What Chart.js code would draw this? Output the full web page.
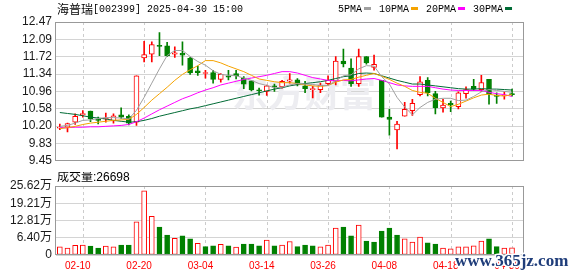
<!DOCTYPE html>
<html>
<head>
<meta charset="utf-8">
<script src="https://cdn.jsdelivr.net/npm/chart.js@4.4.1/dist/chart.umd.min.js"></script>
<style>
  html, body { margin: 0; padding: 0; background: #fff; }
  #wrap { position: relative; width: 578px; height: 276px; overflow: hidden; }
  canvas { position: absolute; left: 0; }
  #kline { top: 0; }
  #vol { top: 172px; }
</style>
</head>
<body>
<div id="wrap">
  <canvas id="kline" width="578" height="172" style="width:578px;height:172px"></canvas>
  <canvas id="vol" width="578" height="104" style="width:578px;height:104px"></canvas>
</div>
<script>
const stockName = "海普瑞";
const stockCode = "002399";
const stamp = "2025-04-30 15:00";

const dates = [
  "02-05","02-06","02-07","02-10","02-11","02-12","02-13","02-14","02-17","02-18",
  "02-19","02-20","02-21","02-24","02-25","02-26","02-27","02-28","03-03","03-04",
  "03-05","03-06","03-07","03-10","03-11","03-12","03-13","03-14","03-17","03-18",
  "03-19","03-20","03-21","03-24","03-25","03-26","03-27","03-28","03-31","04-01",
  "04-02","04-03","04-07","04-08","04-09","04-10","04-11","04-14","04-15","04-16",
  "04-17","04-18","04-21","04-22","04-23","04-24","04-25","04-28","04-29","04-30"
];
const dateTicks = ["02-10","02-20","03-04","03-14","03-26","04-08","04-18","04-30"];

const opens = [
  10.16,10.18,10.29,10.45,10.53,10.35,10.36,10.32,10.45,10.42,
  10.29,11.69,11.77,11.96,11.95,11.77,11.79,11.68,11.41,11.35,
  11.37,11.22,11.30,11.35,11.25,11.19,10.99,10.96,11.08,11.06,
  11.18,11.21,11.08,11.00,11.00,11.13,11.18,11.62,11.47,11.13,
  11.72,11.48,11.20,10.40,10.12,10.42,10.54,10.89,11.20,10.91,
  10.60,10.70,10.63,10.91,11.07,11.00,11.22,10.88,10.86,10.91
];
const highs = [
  10.25,10.27,10.47,10.54,10.53,10.40,10.49,10.47,10.60,10.45,
  11.30,12.05,12.04,12.24,12.03,11.93,12.04,11.70,11.51,11.42,
  11.42,11.35,11.42,11.42,11.28,11.19,11.03,11.10,11.12,11.20,
  11.35,11.24,11.18,11.07,11.14,11.30,11.72,11.88,11.67,11.88,
  11.72,11.75,11.20,10.57,10.31,10.72,10.79,11.28,11.26,10.96,
  10.79,10.75,10.95,11.06,11.22,11.31,11.22,10.93,10.95,11.01
];
const lows = [
  10.13,10.08,10.24,10.40,10.30,10.25,10.29,10.27,10.37,10.23,
  10.22,11.60,11.60,11.74,11.72,11.70,11.53,11.33,11.31,11.25,
  11.14,11.16,11.21,11.23,11.02,10.97,10.88,10.87,10.96,11.03,
  11.14,11.08,10.93,10.82,10.93,11.10,11.10,11.49,11.07,11.07,
  11.55,11.42,10.40,10.01,9.71,10.42,10.44,10.86,10.86,10.47,
  10.51,10.52,10.58,10.81,10.98,10.96,10.68,10.70,10.79,10.86
];
const closes = [
  10.17,10.26,10.42,10.48,10.36,10.33,10.37,10.43,10.40,10.27,
  11.30,11.76,11.98,11.94,11.74,11.80,11.75,11.36,11.37,11.36,
  11.22,11.33,11.27,11.30,11.12,10.99,10.97,11.08,11.05,11.18,
  11.21,11.12,11.02,11.01,11.10,11.20,11.62,11.56,11.13,11.72,
  11.58,11.55,10.40,10.35,10.25,10.57,10.70,11.17,10.93,10.60,
  10.66,10.67,10.93,11.00,11.01,11.15,10.91,10.85,10.88,10.89
];
const prevClose = 10.15;

// 成交量 (手)
const volumes = [
  30000,26000,36000,37000,33000,26000,33000,30000,37000,37000,
  123000,238000,144000,104000,74000,62000,71000,60000,43000,31000,
  34000,40000,34000,29000,41000,41000,34000,55000,34000,37000,
  50000,31000,37000,34000,30000,37000,100000,104000,71000,111000,
  52000,48000,89000,100000,74000,60000,48000,67000,45000,41000,
  26000,23000,30000,30000,34000,52000,60000,31000,26000,26698
];

const ma5 = [
  10.20,10.22,10.27,10.33,10.34,10.37,10.39,10.39,10.38,10.36,
  10.55,10.83,11.14,11.45,11.74,11.85,11.85,11.72,11.61,11.53,
  11.41,11.33,11.31,11.30,11.25,11.20,11.13,11.09,11.04,11.05,
  11.10,11.13,11.12,11.11,11.09,11.09,11.19,11.30,11.32,11.45,
  11.52,11.51,11.28,11.12,10.83,10.62,10.45,10.61,10.72,10.79,
  10.81,10.81,10.76,10.77,10.85,10.95,11.00,10.98,10.96,10.94
];
const ma10 = [
  10.15,10.17,10.20,10.24,10.27,10.29,10.31,10.33,10.34,10.35,
  10.46,10.61,10.77,10.91,11.05,11.20,11.33,11.43,11.52,11.63,
  11.63,11.58,11.51,11.45,11.39,11.31,11.23,11.20,11.17,11.15,
  11.15,11.13,11.10,11.08,11.07,11.09,11.16,11.21,11.22,11.27,
  11.31,11.35,11.29,11.22,11.14,11.07,10.98,10.94,10.92,10.81,
  10.72,10.63,10.68,10.75,10.82,10.88,10.90,10.87,10.86,10.89
];
const ma20 = [
  10.17,10.17,10.18,10.18,10.19,10.19,10.20,10.21,10.22,10.24,
  10.30,10.38,10.47,10.56,10.64,10.72,10.80,10.86,10.93,10.99,
  11.04,11.10,11.14,11.18,11.22,11.25,11.28,11.31,11.35,11.39,
  11.39,11.36,11.31,11.26,11.23,11.20,11.19,11.20,11.19,11.21,
  11.23,11.24,11.20,11.15,11.10,11.08,11.07,11.07,11.07,11.04,
  11.01,10.99,10.98,10.98,10.98,10.98,10.94,10.91,10.89,10.85
];
const ma30 = [
  10.50,10.48,10.46,10.43,10.40,10.38,10.36,10.33,10.31,10.29,
  10.30,10.33,10.37,10.42,10.46,10.50,10.54,10.58,10.61,10.65,
  10.69,10.73,10.77,10.81,10.85,10.89,10.93,10.97,11.01,11.04,
  11.08,11.11,11.13,11.15,11.17,11.20,11.24,11.28,11.30,11.35,
  11.36,11.35,11.30,11.25,11.20,11.16,11.12,11.12,11.10,11.08,
  11.06,11.04,11.02,11.01,11.01,11.02,11.01,11.01,11.00,10.99
];

const priceTicks = ["9.45","9.83","10.20","10.58","10.96","11.34","11.72","12.09","12.47"];
const volumeTicks = ["0","6.40万","12.81万","19.21万","25.62万"];

const red = "#ff0000";
const green = "#008000";
const axisFont = { family: "'Liberation Sans', 'Noto Sans CJK SC'", size: 12 };

// one extra empty slot on the right, like the original
const labels = dates.concat([""]);
const candleUp = closes.map((c, i) => c >= opens[i]);
const volumeUp = closes.map((c, i) => c >= (i ? closes[i - 1] : prevClose));

function evenTicks(list, min, max) {
  return (scale) => {
    scale.ticks = list.map((_, k) => ({ value: min + (k * (max - min)) / (list.length - 1) }));
  };
}

const chartDecor = {
  id: "chartDecor",
  beforeDatasetsDraw(chart, args, opts) {
    const { ctx, chartArea: a, scales } = chart;
    ctx.save();
    if (opts.watermark) {
      ctx.fillStyle = "#ededf1";
      ctx.font = "bold 36px 'Noto Sans CJK SC'";
      ctx.textBaseline = "middle";
      ctx.fillText(opts.watermark, 232, 93);
    }
    ctx.strokeStyle = "#cccccc";
    ctx.lineWidth = 1;
    ctx.setLineDash([3, 3]);
    dates.forEach((d, i) => {
      if (!dateTicks.includes(d)) return;
      const x = Math.round(scales.x.getPixelForValue(i)) + 0.5;
      ctx.beginPath();
      ctx.moveTo(x, a.top);
      ctx.lineTo(x, a.bottom);
      ctx.stroke();
    });
    ctx.restore();
  },
  afterDatasetsDraw(chart) {
    const { ctx, chartArea: a } = chart;
    ctx.save();
    ctx.strokeStyle = "#999999";
    ctx.lineWidth = 1;
    ctx.strokeRect(Math.round(a.left) - 0.5, Math.round(a.top) + 0.5,
      Math.round(a.right - a.left), Math.round(a.bottom - a.top) - 1);
    ctx.restore();
  }
};

const priceMin = parseFloat(priceTicks[0]);
const priceMax = parseFloat(priceTicks[priceTicks.length - 1]);

new Chart(document.getElementById("kline"), {
  type: "bar",
  data: {
    labels: labels,
    datasets: [
      { type: "line", label: "5PMA", data: ma5, borderColor: "#a0a0a0", borderWidth: 1, pointRadius: 0, order: 0 },
      { type: "line", label: "10PMA", data: ma10, borderColor: "#f5a300", borderWidth: 1, pointRadius: 0, order: 0 },
      { type: "line", label: "20PMA", data: ma20, borderColor: "#ff00ff", borderWidth: 1, pointRadius: 0, order: 0 },
      { type: "line", label: "30PMA", data: ma30, borderColor: "#006b35", borderWidth: 1, pointRadius: 0, order: 0 },
      {
        label: "body",
        data: dates.map((d, i) => [opens[i], closes[i]]),
        backgroundColor: candleUp.map((up) => (up ? "#ffffff" : green)),
        borderColor: candleUp.map((up) => (up ? red : green)),
        borderWidth: 1,
        borderSkipped: false,
        barThickness: 5,
        minBarLength: 1,
        grouped: false,
        order: 1
      },
      {
        label: "wick",
        data: dates.map((d, i) => [lows[i], highs[i]]),
        backgroundColor: candleUp.map((up) => (up ? red : green)),
        barThickness: 1,
        grouped: false,
        order: 2
      }
    ]
  },
  options: {
    responsive: false,
    animation: false,
    devicePixelRatio: 1,
    layout: { padding: { top: 22, right: 54.5, bottom: 7, left: 0 } },
    plugins: {
      legend: { display: false },
      tooltip: { enabled: false },
      chartDecor: { watermark: "东方财富" }
    },
    scales: {
      x: { type: "category", display: false, offset: true, grid: { offset: false } },
      y: {
        min: priceMin,
        max: priceMax,
        afterBuildTicks: evenTicks(priceTicks, priceMin, priceMax),
        afterFit: (s) => { s.width = 56; },
        ticks: { autoSkip: false, callback: (v, i) => priceTicks[i], font: axisFont, color: "#1a1a1a", padding: 4 },
        grid: { color: "#d4d4d4", drawTicks: false },
        border: { display: false }
      }
    }
  },
  plugins: [chartDecor, {
    id: "klineText",
    afterDraw(chart) {
      const ctx = chart.ctx;
      ctx.save();
      ctx.textBaseline = "middle";
      ctx.fillStyle = "#000";
      ctx.font = "12px 'Noto Sans CJK SC'";
      ctx.fillText(stockName, 57, 9);
      let x = 57 + ctx.measureText(stockName).width;
      ctx.font = "10px 'Liberation Mono'";
      ctx.fillText("[" + stockCode + "] " + stamp, x, 9);
      x = 338;
      chart.data.datasets.filter((d) => d.type === "line").forEach((d) => {
        ctx.fillStyle = "#000";
        ctx.fillText(d.label, x, 9);
        x += ctx.measureText(d.label).width + 2;
        ctx.fillStyle = d.borderColor;
        ctx.fillRect(x, 7, 7, 3);
        x += 15;
      });
      ctx.restore();
    }
  }]
});

const volMax = parseFloat(volumeTicks[volumeTicks.length - 1]) * 10000;

new Chart(document.getElementById("vol"), {
  type: "bar",
  data: {
    labels: labels,
    datasets: [{
      label: "成交量",
      data: volumes,
      backgroundColor: volumeUp.map((up) => (up ? "#ffffff" : green)),
      borderColor: volumeUp.map((up) => (up ? red : green)),
      borderWidth: 1,
      borderSkipped: false,
      barThickness: 5
    }]
  },
  options: {
    responsive: false,
    animation: false,
    devicePixelRatio: 1,
    layout: { padding: { top: 14, right: 54.5, bottom: 0, left: 0 } },
    plugins: {
      legend: { display: false },
      tooltip: { enabled: false },
      chartDecor: {}
    },
    scales: {
      x: {
        type: "category",
        offset: true,
        afterFit: (s) => { s.height = 21; },
        grid: { display: false, drawTicks: false, offset: false },
        border: { display: false },
        ticks: {
          autoSkip: false,
          maxRotation: 0,
          labelOffset: -5,
          padding: 5,
          color: red,
          font: { family: "'Liberation Sans'", size: 10 },
          callback: (v, i) => (dateTicks.includes(labels[i]) ? labels[i] : "")
        }
      },
      y: {
        min: 0,
        max: volMax,
        afterBuildTicks: evenTicks(volumeTicks, 0, volMax),
        afterFit: (s) => { s.width = 56; },
        ticks: { autoSkip: false, callback: (v, i) => volumeTicks[i], font: axisFont, color: "#1a1a1a", padding: 4 },
        grid: { color: "#d4d4d4", drawTicks: false },
        border: { display: false }
      }
    }
  },
  plugins: [chartDecor, {
    id: "volText",
    afterDraw(chart) {
      const ctx = chart.ctx;
      ctx.save();
      ctx.textBaseline = "middle";
      ctx.fillStyle = "#000";
      ctx.font = "12px 'Liberation Sans', 'Noto Sans CJK SC'";
      ctx.fillText("成交量:" + volumes[volumes.length - 1], 57, 6);
      ctx.font = "bold 17px 'Liberation Serif'";
      ctx.textBaseline = "alphabetic";
      ctx.lineWidth = 3;
      ctx.strokeStyle = "#ffffff";
      ctx.strokeText("www.365jz.com", 455, 94);
      ctx.fillStyle = "#1f3d7a";
      ctx.fillText("www.365jz.com", 455, 94);
      ctx.restore();
    }
  }]
});
</script>
</body>
</html>
